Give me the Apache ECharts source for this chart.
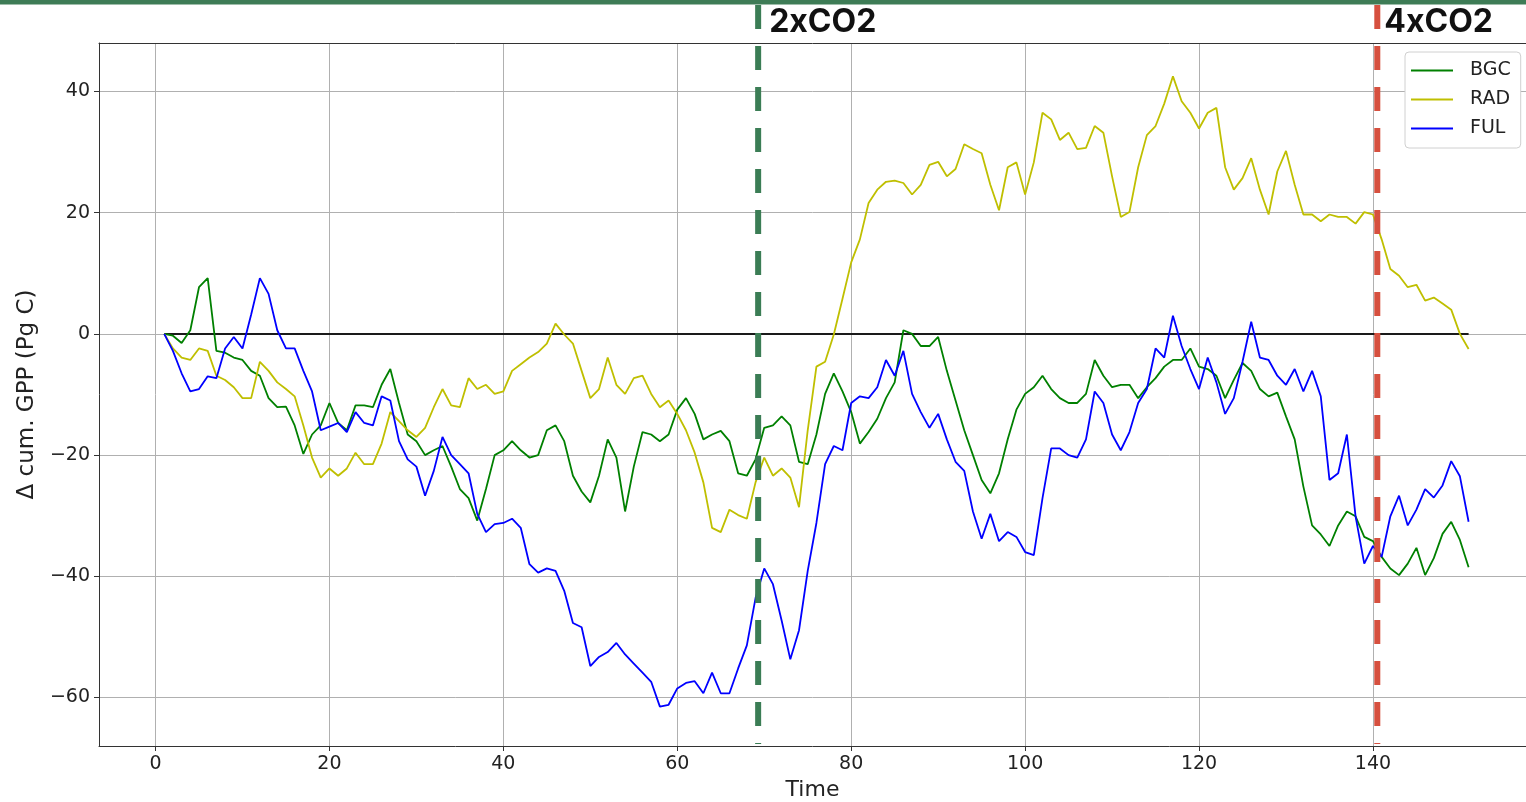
<!DOCTYPE html>
<html><head><meta charset="utf-8">
<script src="https://cdn.jsdelivr.net/npm/echarts@6/dist/echarts.min.js"></script>
<style>html,body{margin:0;padding:0;background:#fff;overflow:hidden}#c{width:1526px;height:802px}</style>
</head><body><div id="c"></div>
<script>
// ---- data ----
const years = [1,2,3,4,5,6,7,8,9,10,11,12,13,14,15,16,17,18,19,20,21,22,23,24,25,26,27,28,29,30,31,32,33,34,35,36,37,38,39,40,41,42,43,44,45,46,47,48,49,50,51,52,53,54,55,56,57,58,59,60,61,62,63,64,65,66,67,68,69,70,71,72,73,74,75,76,77,78,79,80,81,82,83,84,85,86,87,88,89,90,91,92,93,94,95,96,97,98,99,100,101,102,103,104,105,106,107,108,109,110,111,112,113,114,115,116,117,118,119,120,121,122,123,124,125,126,127,128,129,130,131,132,133,134,135,136,137,138,139,140,141,142,143,144,145,146,147,148,149,150,151];
const BGC = [0,-0.3,-1.5,0.6,7.7,9.2,-2.8,-3.1,-3.9,-4.3,-6.1,-6.9,-10.6,-12.1,-12,-15.1,-19.8,-16.6,-15.1,-11.4,-14.7,-15.9,-11.8,-11.8,-12.1,-8.4,-5.8,-11.4,-16.6,-17.7,-20,-19.2,-18.5,-21.9,-25.6,-27.1,-30.8,-25.6,-20,-19.2,-17.7,-19.2,-20.4,-20,-15.9,-15.1,-17.7,-23.4,-26,-27.8,-23.4,-17.4,-20.4,-29.3,-21.9,-16.2,-16.6,-17.7,-16.6,-12.5,-10.6,-13.2,-17.4,-16.6,-16,-17.7,-23,-23.4,-20.7,-15.5,-15.1,-13.6,-15.1,-21.1,-21.5,-16.6,-9.9,-6.5,-9.5,-12.9,-18.1,-16.2,-14,-10.6,-8,0.6,0,-2,-2,-0.5,-6.1,-11,-15.9,-20,-24.1,-26.3,-23,-17.4,-12.5,-9.9,-8.8,-6.9,-9.1,-10.6,-11.4,-11.4,-9.9,-4.3,-6.9,-8.8,-8.4,-8.4,-10.6,-8.8,-7.3,-5.4,-4.3,-4.3,-2.4,-5.4,-5.8,-6.9,-10.6,-7.6,-4.8,-6.1,-9.1,-10.3,-9.7,-13.6,-17.4,-25.2,-31.6,-33.1,-35,-31.6,-29.3,-30.1,-33.5,-34.2,-36.8,-38.7,-39.8,-37.9,-35.3,-39.8,-37,-33,-31,-34,-38.5];
const RAD = [0,-2.4,-3.9,-4.3,-2.4,-2.8,-6.9,-7.6,-8.8,-10.6,-10.6,-4.6,-6.1,-8,-9.1,-10.3,-15.1,-20.4,-23.7,-22.2,-23.4,-22.2,-19.6,-21.5,-21.5,-18.1,-12.9,-14.4,-15.9,-17,-15.5,-12.1,-9.1,-11.8,-12.1,-7.3,-9.1,-8.4,-9.9,-9.5,-6.1,-5,-3.9,-3,-1.6,1.7,-0.1,-1.6,-6.1,-10.6,-9.1,-3.9,-8.4,-9.9,-7.3,-6.9,-9.9,-12.1,-11,-13.2,-15.9,-19.6,-24.5,-32,-32.7,-29,-29.9,-30.5,-24.5,-20.4,-23.4,-22.2,-23.7,-28.6,-15.9,-5.4,-4.6,-0.1,5.8,11.8,15.6,21.6,23.8,25.1,25.3,24.9,23,24.6,27.9,28.4,26,27.2,31.3,30.5,29.8,24.6,20.4,27.5,28.3,23,28.3,36.5,35.4,32,33.2,30.5,30.7,34.3,33.2,26,19.3,20.1,27.5,32.8,34.3,38,42.5,38.4,36.5,33.9,36.5,37.3,27.5,23.8,25.7,29,23.8,19.7,26.8,30.2,24.6,19.7,19.7,18.6,19.7,19.3,19.3,18.2,20.1,19.7,15.6,10.7,9.6,7.7,8.1,5.5,6,5,4,0,-2.5];
const FUL = [0,-2.8,-6.5,-9.5,-9.1,-7,-7.3,-2.4,-0.5,-2.4,3.2,9.2,6.6,0.6,-2.4,-2.4,-6.1,-9.5,-15.9,-15.3,-14.7,-16.2,-12.9,-14.7,-15.1,-10.3,-11,-17.7,-20.7,-21.9,-26.7,-22.6,-17,-20,-21.5,-23,-29.7,-32.7,-31.4,-31.2,-30.5,-32,-38,-39.4,-38.7,-39.1,-42.4,-47.7,-48.4,-54.8,-53.3,-52.5,-51,-52.9,-54.4,-55.9,-57.4,-61.5,-61.2,-58.5,-57.6,-57.3,-59.3,-55.9,-59.3,-59.3,-55.2,-51.4,-43.6,-38.7,-41.3,-47.3,-53.7,-48.9,-39.1,-31.2,-21.5,-18.5,-19.2,-11.4,-10.3,-10.6,-8.8,-4.3,-6.9,-2.8,-9.9,-12.9,-15.5,-13.2,-17.4,-21.1,-22.6,-29.3,-33.8,-29.7,-34.2,-32.7,-33.5,-36,-36.5,-27.1,-18.9,-18.9,-20,-20.4,-17.4,-9.5,-11.4,-16.6,-19.2,-16.2,-11.4,-9.1,-2.4,-3.9,3,-2,-5.8,-9.1,-3.9,-8,-13.2,-10.6,-4.6,2,-3.9,-4.3,-6.9,-8.4,-5.8,-9.5,-6.1,-10.3,-24.1,-23,-16.6,-30.1,-37.9,-35,-36.8,-30.1,-26.7,-31.6,-29,-25.6,-27,-25,-21,-23.5,-31];
const seriesNames = ['BGC','RAD','FUL'];
const xTicks = [0,20,40,60,80,100,120,140];
const yTicks = [-60,-40,-20,0,20,40];
const zeroLine = [[1,0],[151,0]];
const co2Marks = [{t:69.3,label:'2xCO2',color:'#3b7d55',dx:11},{t:140.5,label:'4xCO2',color:'#d6503f',dx:7}];

// ---- chart ----
const chart = echarts.init(document.getElementById('c'), null, {renderer:'canvas'});
const minus = v => String(v).replace('-', '\u2212');
const FONT = 'DejaVu Sans';
const pair = arr => years.map((t,i)=>[t, arr[i]]);

chart.setOption({
  animation:false,
  backgroundColor:'#fff',
  grid:{left:99, top:43, right:0, height:703, show:false, containLabel:false, outerBoundsMode:'none'},
  xAxis:[{type:'value', min:-6.5, max:157.6, position:'bottom',
    name:'Time', nameLocation:'middle', nameGap:31,
    nameTextStyle:{fontFamily:FONT, fontSize:22, color:'#222'},
    axisLine:{show:true, onZero:false, lineStyle:{color:'#333', width:1}},
    axisTick:{show:true, inside:false, length:5, lineStyle:{color:'#333'}, customValues:xTicks},
    axisLabel:{fontFamily:FONT, fontSize:19, color:'#222', margin:9, customValues:xTicks, formatter:minus},
    splitLine:{show:true, lineStyle:{color:'#b0b0b0', width:1}}
  },{type:'value', min:-6.5, max:157.6, position:'top',
    axisLine:{show:true, onZero:false, lineStyle:{color:'#333', width:1}},
    axisTick:{show:false}, axisLabel:{show:false}, splitLine:{show:false}
  }],
  yAxis:{type:'value', min:-68, max:48,
    name:'\u0394 cum. GPP (Pg C)', nameLocation:'middle', nameGap:50, nameRotate:90,
    nameTextStyle:{fontFamily:FONT, fontSize:23, color:'#222'},
    axisLine:{show:true, onZero:false, lineStyle:{color:'#333', width:1}},
    axisTick:{show:true, inside:false, length:5, lineStyle:{color:'#333'}, customValues:yTicks},
    axisLabel:{fontFamily:FONT, fontSize:19, color:'#222', margin:9, customValues:yTicks, formatter:minus},
    splitLine:{show:true, lineStyle:{color:'#b0b0b0', width:1}}
  },
  legend:{data:seriesNames, orient:'vertical', left:1405, top:52,
    icon:'rect', itemWidth:42, itemHeight:2, itemGap:10,
    backgroundColor:'#fff', borderColor:'#d0d0d0', borderWidth:1, borderRadius:4,
    padding:[9,10,10,6],
    textStyle:{fontFamily:FONT, fontSize:19, color:'#222', padding:[0,0,0,12]}
  },
  series:[
    {name:'zero', type:'line', data:zeroLine, showSymbol:false, silent:true, z:1,
      lineStyle:{color:'#1a1a1a', width:2}, itemStyle:{color:'#1a1a1a'}},
    {name:'BGC', type:'line', data:pair(BGC), showSymbol:false, z:2,
      lineStyle:{color:'#008000', width:1.8}, itemStyle:{color:'#008000'}},
    {name:'RAD', type:'line', data:pair(RAD), showSymbol:false, z:3,
      lineStyle:{color:'#bfbf00', width:1.8}, itemStyle:{color:'#bfbf00'}},
    {name:'FUL', type:'line', data:pair(FUL), showSymbol:false, z:4,
      lineStyle:{color:'#0000ff', width:1.8}, itemStyle:{color:'#0000ff'}}
  ]
});

// annotations placed through the x scale
const g = [{type:'rect', shape:{x:0,y:0,width:1526,height:4.5}, style:{fill:'#3e7c56'}, z:100}];
co2Marks.forEach(m=>{
  const px = chart.convertToPixel({xAxisIndex:0}, m.t);
  g.push({type:'line', shape:{x1:px,y1:5,x2:px,y2:744}, style:{stroke:m.color, lineWidth:6, lineDash:[24,17]}, z:100});
  g.push({type:'text', x:px+m.dx, y:22, style:{text:m.label, fill:'#111', font:'700 32px Inter', textVerticalAlign:'middle'}, z:101});
});
chart.setOption({graphic:g});
</script></body></html>
